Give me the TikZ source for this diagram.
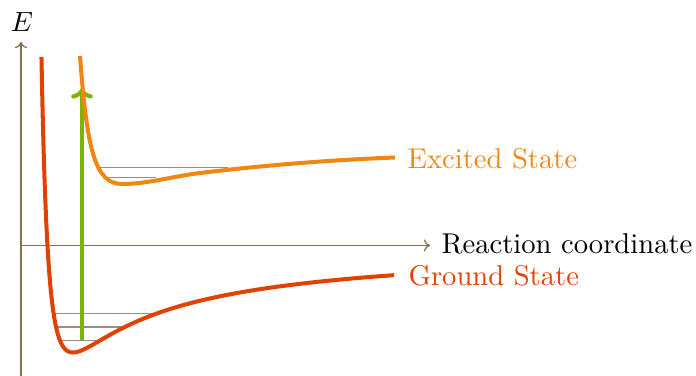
\documentclass[tikz,border=0pt]{standalone}
\usetikzlibrary{arrows.meta}
\definecolor{axiscol}{RGB}{135,110,80}
\definecolor{levelcol}{RGB}{160,140,120}
\definecolor{groundcol}{RGB}{224,66,4}
\definecolor{excitedcol}{RGB}{240,135,20}
\definecolor{arrowcol}{RGB}{125,180,0}
\begin{document}
\begin{tikzpicture}[x=0.36pt,y=-0.36pt,
  axisline/.style={draw=axiscol,line width=0.45pt,-{To[length=2.2pt,width=4.4pt]}},
  levelline/.style={draw=levelcol,line width=0.55pt},
  curve/.style={line width=1.45pt},
  lbl/.style={anchor=base west,inner sep=0pt,font=\fontsize{10.3}{12}\selectfont}]
\useasboundingbox (0,0) rectangle (696,376);
% axes
\coordinate (ybot) at (21,376);
\coordinate (ytop) at (21,42);
\coordinate (xl) at (21,245.5);
\coordinate (xr) at (430,245.5);
\draw[axisline] (ybot) -- (ytop);
\draw[axisline] (xl) -- (xr);
\node[inner sep=0pt,anchor=base,font=\fontsize{10.3}{12}\selectfont] (E) at (22,31.5) {$E$};
\node[lbl] (rc) at (441,253.5) {Reaction coordinate};
% vibrational levels
\draw[levelline] (55,313.7) -- (155,313.7);
\draw[levelline] (57,327) -- (124,327);
\draw[levelline] (60,340.3) -- (101,340.3);
\draw[levelline] (96,167.3) -- (228,167.3);
\draw[levelline] (103,177.7) -- (156,177.7);
% excitation arrow
\coordinate (ab) at (82,340.3);
\coordinate (at) at (82,88);
\draw[arrowcol,line width=1.5pt,-{To[length=3.8pt,width=7.8pt]}] (ab) -- (at);
% ground state
\draw[groundcol,curve] plot[variable=\t,domain=-1.0904:2.05,samples=160,smooth]
  ({25.5+47.5*exp(\t)},{352.5-110*(1-exp(-0.89*\t))*(1-exp(-0.89*\t))});
% excited state
\draw[excitedcol,curve] (80,56) .. controls (87,150) and (95,184) .. (122,184)
  .. controls (148,184) and (174,176.1) .. (200,173)
  .. controls (265,165.2) and (330,160) .. (395,157.5);
\node[lbl,text=excitedcol] (es) at (407,169) {Excited State};
\node[lbl,text=groundcol] (gs) at (408,286) {Ground State};
\end{tikzpicture}
\end{document}
